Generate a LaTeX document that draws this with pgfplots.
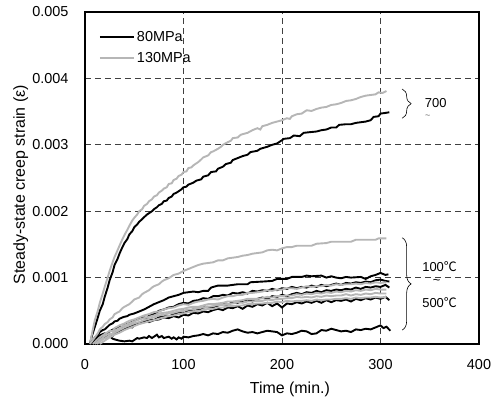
\documentclass[border=0pt]{standalone}
\usepackage{pgfplots}
\pgfplotsset{compat=1.18}
\usepackage{fontspec}
\setmainfont{Liberation Sans}
\newfontfamily\cjk{Noto Sans CJK SC}
\usetikzlibrary{decorations.pathreplacing}
\definecolor{lgray}{RGB}{182,182,182}
\begin{document}
\begin{tikzpicture}
\useasboundingbox (-85bp,-56bp) rectangle (412bp,344bp);
\begin{axis}[
    scale only axis, width=394bp, height=332bp,
    at={(0,0)}, anchor=south west,
    xmin=0, xmax=400, ymin=0, ymax=0.005,
    xtick={0,100,200,300,400}, ytick={0,0.001,0.002,0.003,0.004,0.005},
    scaled y ticks=false,
    /pgf/number format/assume math mode=true,
    tick label style={font=\fontsize{14.5}{16}\selectfont},
    xticklabel style={yshift=-12bp},
    yticklabel style={/pgf/number format/fixed, /pgf/number format/fixed zerofill,
        /pgf/number format/precision=3, xshift=-13bp},
    major tick length=0pt,
    xlabel={Time (min.)}, ylabel={Steady-state creep strain (ε)},
    label style={font=\fontsize{16}{18}\selectfont},
    xlabel style={at={(axis description cs:0.52,-0.136)}, anchor=center},
    ylabel style={at={(axis description cs:-0.163,0.48)}, anchor=center},
    grid=major,
    grid style={dash pattern=on 6bp off 4bp, line width=0.9bp, black!75},
    axis line style={line width=1.6bp},
    clip=false,
    legend style={at={(axis description cs:0.035,0.948)}, anchor=north west,
        draw=none, fill=none, font=\fontsize{14.5}{16}\selectfont, row sep=5bp,
        inner sep=0pt, cells={anchor=west}},
    legend image code/.code={\draw[#1, line width=2bp] (0bp,0bp) -- (34bp,0bp);},
    every axis plot/.append style={line width=1.9bp},
  ]
% 80 MPa, 700
\addplot[black] coordinates {
(5,0) (7,0.00012) (10,0.00026) (12,0.00035) (15,0.0005) (18,0.0006) (20,0.00071) (23,0.00085) (25,0.00096) (28,0.00108) (30,0.00119) (33,0.00128) (35,0.00136) (38,0.00146) (40,0.00152) (43,0.00158) (45,0.00165) (48,0.0017) (50,0.00176) (53,0.0018) (55,0.00184) (58,0.00188) (60,0.00191) (63,0.00195) (65,0.00197) (68,0.002) (70,0.00203) (73,0.00206) (75,0.00209) (78,0.00211) (80,0.00215) (83,0.00216) (85,0.0022) (88,0.00222) (90,0.00226) (93,0.00228) (95,0.0023) (98,0.00233) (100,0.00236) (103,0.00237) (105,0.0024) (110,0.00243) (113,0.00246) (118,0.00248) (120,0.00252) (125,0.00254) (128,0.00259) (133,0.0026) (135,0.00264) (140,0.00267) (143,0.00271) (148,0.00273) (150,0.00277) (155,0.0028) (160,0.00283) (165,0.00285) (168,0.00289) (175,0.00291) (178,0.00294) (185,0.00297) (190,0.003) (195,0.00302) (198,0.00305) (202,0.00309) (208,0.0031) (212,0.00314) (218,0.00313) (222,0.00318) (228,0.00319) (235,0.0032) (240,0.00322) (245,0.00323) (250,0.00326) (255,0.00326) (258,0.0033) (265,0.00331) (270,0.00331) (275,0.00333) (285,0.00335) (290,0.00337) (293,0.00342) (298,0.00343) (300,0.00347) (305,0.00348) (309,0.00349)};
\addlegendentry{80MPa}
% 130 MPa, 700
\addplot[lgray] coordinates {
(5,0) (8,0.00022) (10,0.00036) (13,0.0005) (15,0.00062) (18,0.00076) (20,0.00086) (23,0.001) (25,0.0011) (28,0.00123) (30,0.00131) (33,0.00141) (35,0.00148) (38,0.00158) (40,0.00164) (43,0.00172) (45,0.00178) (48,0.00186) (50,0.0019) (53,0.00195) (55,0.002) (58,0.00203) (60,0.00208) (63,0.00211) (65,0.00215) (68,0.00218) (70,0.00222) (73,0.00224) (75,0.00228) (78,0.00231) (80,0.00234) (83,0.00236) (85,0.00241) (88,0.00242) (90,0.00247) (93,0.00249) (95,0.00253) (98,0.00255) (100,0.00259) (103,0.0026) (105,0.00265) (108,0.00266) (110,0.00269) (113,0.00272) (115,0.00274) (118,0.00278) (120,0.00281) (125,0.00284) (128,0.00289) (130,0.0029) (135,0.00294) (138,0.00297) (140,0.003) (145,0.00304) (148,0.00306) (150,0.0031) (155,0.00311) (158,0.00315) (160,0.00316) (165,0.00318) (170,0.00322) (175,0.00325) (178,0.00323) (180,0.00328) (185,0.0033) (190,0.00333) (195,0.00335) (200,0.00337) (205,0.0034) (208,0.00339) (210,0.00343) (215,0.00346) (220,0.00347) (225,0.00352) (230,0.00351) (235,0.00354) (240,0.00356) (245,0.00357) (250,0.0036) (255,0.00361) (260,0.00363) (265,0.00366) (270,0.00367) (275,0.00369) (280,0.00372) (285,0.00374) (290,0.00375) (295,0.00376) (298,0.00379) (302,0.00378) (306,0.00381)};
\addlegendentry{130MPa}
% 80 MPa, 100-500
\addplot[black, forget plot] coordinates {
(5,0) (8,0.00005) (10,0.0001) (13,0.00013) (15,0.00018) (18,0.00021) (20,0.00022) (23,0.00026) (25,0.00029) (28,0.00031) (30,0.00034) (33,0.00035) (35,0.00038) (38,0.0004) (40,0.00041) (43,0.00042) (45,0.00044) (50,0.00046) (55,0.00049) (60,0.00052) (65,0.00056) (70,0.0006) (75,0.00063) (80,0.00066) (85,0.0007) (90,0.00072) (95,0.00074) (100,0.00077) (105,0.00078) (110,0.00079) (115,0.00078) (120,0.0008) (125,0.0008) (128,0.00085) (135,0.00088) (145,0.00088) (150,0.00089) (155,0.0009) (165,0.0009) (168,0.00093) (180,0.00094) (190,0.00095) (195,0.00098) (205,0.00098) (210,0.00101) (220,0.00101) (225,0.00103) (230,0.00102) (240,0.00103) (245,0.001) (250,0.00102) (255,0.001) (260,0.00099) (265,0.00101) (270,0.001) (280,0.00101) (285,0.00098) (290,0.00102) (295,0.00104) (300,0.00107) (305,0.00104) (308,0.00105)};
\addplot[black, forget plot] coordinates {
(5,0) (10,0.00006) (13,0.0001) (15,0.00013) (20,0.00016) (23,0.00015) (25,0.00019) (30,0.00023) (35,0.00026) (38,0.00025) (40,0.00029) (45,0.00031) (50,0.00035) (55,0.00038) (60,0.0004) (63,0.00039) (65,0.00043) (70,0.00045) (75,0.0005) (80,0.00052) (85,0.00055) (90,0.00056) (95,0.0006) (100,0.00062) (105,0.00061) (110,0.00065) (115,0.00066) (120,0.00069) (125,0.00068) (130,0.00072) (135,0.00072) (140,0.00074) (145,0.00073) (150,0.00077) (155,0.00076) (160,0.00078) (165,0.00076) (170,0.0008) (175,0.00079) (180,0.00081) (185,0.0008) (190,0.00083) (195,0.00081) (200,0.00084) (205,0.00083) (210,0.00086) (215,0.00084) (220,0.00086) (225,0.00085) (230,0.00088) (235,0.00086) (240,0.00089) (245,0.00087) (250,0.00089) (255,0.00091) (260,0.00089) (265,0.00092) (270,0.00091) (275,0.00093) (280,0.00092) (285,0.00094) (290,0.00093) (295,0.00096) (300,0.00097) (305,0.00095) (309,0.00094)};
\addplot[black, forget plot] coordinates {
(10,0) (15,0.00005) (20,0.0001) (25,0.00013) (30,0.00016) (35,0.0002) (40,0.00024) (45,0.00027) (50,0.0003) (55,0.00032) (60,0.00034) (65,0.00037) (70,0.00036) (75,0.0004) (80,0.00042) (85,0.00041) (90,0.00045) (95,0.00047) (100,0.00046) (105,0.0005) (110,0.00052) (115,0.00051) (120,0.00055) (125,0.00056) (130,0.00054) (135,0.00058) (140,0.0006) (145,0.00059) (150,0.00063) (155,0.00062) (160,0.00065) (165,0.00067) (170,0.00064) (175,0.00068) (180,0.0007) (185,0.00068) (190,0.00072) (195,0.00071) (200,0.00074) (205,0.00072) (210,0.00075) (215,0.00077) (220,0.00075) (225,0.00078) (230,0.00077) (235,0.0008) (240,0.00078) (245,0.00081) (250,0.0008) (255,0.00082) (260,0.00081) (265,0.00083) (270,0.00082) (275,0.00085) (280,0.00083) (285,0.00086) (290,0.00085) (295,0.00087) (300,0.00086) (305,0.00089) (309,0.00085)};
\addplot[black, forget plot] coordinates {
(8,0) (10,0.00003) (15,0.00008) (20,0.0001) (25,0.00014) (28,0.00012) (30,0.00017) (35,0.0002) (40,0.00023) (45,0.00026) (48,0.00025) (50,0.00029) (55,0.00031) (60,0.00034) (65,0.00033) (70,0.00036) (75,0.00037) (80,0.0004) (85,0.00039) (90,0.00042) (95,0.0004) (100,0.00044) (105,0.00043) (110,0.00047) (115,0.00046) (120,0.00049) (125,0.00048) (130,0.00051) (135,0.00053) (140,0.00051) (145,0.00055) (150,0.00054) (155,0.00057) (160,0.00053) (165,0.00058) (170,0.00056) (175,0.0006) (180,0.00058) (185,0.00062) (190,0.00057) (195,0.00061) (200,0.00055) (205,0.00061) (210,0.0006) (215,0.00063) (220,0.00061) (225,0.00064) (230,0.00062) (235,0.00065) (240,0.00062) (245,0.00066) (250,0.00063) (255,0.00066) (260,0.00065) (265,0.00067) (270,0.00064) (275,0.00068) (280,0.00066) (285,0.00069) (290,0.00067) (295,0.0007) (300,0.00068) (305,0.00071) (309,0.00066)};
\addplot[black, forget plot] coordinates {
(5,0) (8,0.00004) (10,0.00007) (13,0.0001) (15,0.00012) (18,0.0001) (20,0.00011) (23,0.00009) (25,0.00012) (28,0.00008) (30,0.00007) (35,0.00005) (40,0.00004) (45,0.00005) (48,0.00004) (50,0.00006) (53,0.00009) (55,0.00008) (60,0.0001) (63,0.00009) (65,0.00012) (68,0.00009) (70,0.00011) (73,0.00014) (75,0.0001) (78,0.00012) (80,0.00009) (85,0.00011) (88,0.00008) (90,0.0001) (93,0.00007) (95,0.0001) (98,0.00008) (100,0.00011) (105,0.0001) (110,0.00012) (115,0.00013) (120,0.00015) (125,0.00013) (130,0.00016) (135,0.00015) (140,0.00018) (145,0.00017) (150,0.0002) (155,0.00022) (160,0.00019) (165,0.00017) (170,0.00018) (175,0.00016) (180,0.00018) (185,0.0002) (190,0.00019) (195,0.00018) (200,0.00013) (205,0.00016) (210,0.00015) (215,0.00017) (220,0.0002) (225,0.00019) (230,0.00015) (235,0.00016) (240,0.00021) (245,0.0002) (250,0.00023) (255,0.00021) (260,0.00019) (265,0.0002) (270,0.00018) (275,0.00022) (280,0.00021) (285,0.00023) (290,0.00022) (295,0.00025) (300,0.00028) (303,0.00024) (306,0.00026) (310,0.0002)};
% 130 MPa, 100-500
\addplot[lgray, forget plot] coordinates {
(5,0) (8,0.00006) (10,0.0001) (13,0.00016) (15,0.00022) (18,0.00026) (20,0.0003) (23,0.00033) (25,0.00037) (28,0.0004) (30,0.00045) (35,0.00049) (38,0.00054) (40,0.00056) (45,0.0006) (48,0.00064) (50,0.00067) (55,0.0007) (58,0.00075) (60,0.00077) (65,0.00081) (68,0.00085) (70,0.00087) (75,0.0009) (78,0.00094) (80,0.00096) (85,0.00099) (88,0.00102) (90,0.00104) (95,0.00106) (100,0.0011) (105,0.00113) (110,0.00116) (115,0.00119) (120,0.00121) (125,0.00122) (130,0.00123) (135,0.00126) (140,0.00126) (145,0.00129) (150,0.0013) (155,0.00131) (160,0.00133) (165,0.00134) (170,0.00136) (175,0.00137) (180,0.00138) (185,0.00141) (190,0.00142) (195,0.00141) (200,0.00144) (205,0.00146) (210,0.00146) (215,0.00148) (220,0.00148) (230,0.00148) (235,0.00151) (245,0.00152) (250,0.00154) (270,0.00154) (275,0.00157) (295,0.00157) (298,0.00159) (306,0.00159)};
\addplot[lgray, forget plot] coordinates {
(8,0) (12,0.00006) (15,0.0001) (20,0.00015) (25,0.0002) (28,0.00019) (30,0.00024) (35,0.00028) (40,0.00031) (45,0.00035) (50,0.00037) (55,0.0004) (60,0.00043) (65,0.00045) (70,0.00048) (75,0.00049) (80,0.00052) (85,0.00054) (90,0.00055) (95,0.00058) (100,0.0006) (105,0.00059) (110,0.00062) (115,0.00064) (120,0.00065) (125,0.00067) (130,0.00068) (135,0.00067) (140,0.0007) (145,0.00072) (150,0.00072) (155,0.00074) (160,0.00074) (165,0.00077) (170,0.00077) (175,0.00078) (180,0.00079) (185,0.00081) (190,0.0008) (195,0.00082) (200,0.00082) (205,0.00084) (210,0.00084) (215,0.00083) (220,0.00085) (225,0.00087) (230,0.00086) (235,0.00087) (240,0.00087) (245,0.00089) (250,0.00088) (255,0.0009) (260,0.00089) (265,0.0009) (270,0.0009) (275,0.00091) (280,0.0009) (285,0.00092) (290,0.00091) (295,0.00093) (300,0.00092) (306,0.00093)};
\addplot[lgray, forget plot] coordinates {
(10,0) (15,0.00006) (20,0.00012) (25,0.00016) (28,0.00015) (30,0.0002) (35,0.00024) (40,0.00028) (45,0.00031) (50,0.00034) (55,0.00037) (60,0.00039) (65,0.00041) (70,0.00043) (75,0.00046) (80,0.00047) (85,0.00048) (90,0.0005) (95,0.00052) (100,0.00053) (105,0.00055) (110,0.00056) (115,0.00056) (120,0.00058) (125,0.0006) (130,0.0006) (135,0.00061) (140,0.00062) (145,0.00064) (150,0.00064) (155,0.00065) (160,0.00066) (165,0.00068) (170,0.00068) (175,0.00068) (180,0.00069) (185,0.00071) (190,0.0007) (195,0.00072) (200,0.00072) (205,0.00073) (210,0.00073) (215,0.00075) (220,0.00074) (225,0.00076) (230,0.00075) (235,0.00077) (240,0.00076) (245,0.00078) (250,0.00077) (255,0.00079) (260,0.00078) (265,0.0008) (270,0.00079) (275,0.00081) (280,0.0008) (285,0.00082) (290,0.00081) (295,0.00083) (300,0.00082) (306,0.00082)};
\addplot[lgray, forget plot] coordinates {
(12,0) (18,0.00007) (22,0.0001) (25,0.00013) (30,0.00017) (35,0.00021) (40,0.00025) (45,0.00028) (50,0.00031) (55,0.00033) (60,0.00036) (65,0.00038) (70,0.0004) (75,0.00043) (80,0.00044) (85,0.00046) (90,0.00047) (95,0.00049) (100,0.0005) (105,0.00052) (110,0.00052) (115,0.00054) (120,0.00055) (125,0.00056) (130,0.00057) (135,0.00059) (140,0.00059) (145,0.0006) (150,0.00061) (155,0.00063) (160,0.00062) (165,0.00064) (170,0.00064) (175,0.00065) (180,0.00065) (185,0.00067) (190,0.00066) (195,0.00068) (200,0.00068) (205,0.00069) (210,0.00069) (215,0.00071) (220,0.0007) (225,0.00071) (230,0.0007) (235,0.00072) (240,0.00071) (245,0.00073) (250,0.00072) (255,0.00073) (260,0.00073) (265,0.00075) (270,0.00073) (275,0.00075) (280,0.00074) (285,0.00076) (290,0.00075) (295,0.00077) (300,0.00076) (306,0.00076)};
\addplot[lgray, forget plot] coordinates {
(15,0) (20,0.00005) (25,0.0001) (30,0.00014) (35,0.00017) (40,0.00021) (45,0.00024) (50,0.00027) (55,0.0003) (60,0.00032) (65,0.00034) (70,0.00036) (75,0.00038) (80,0.0004) (85,0.00042) (90,0.00043) (95,0.00045) (100,0.00046) (105,0.00048) (110,0.00049) (115,0.0005) (120,0.00051) (125,0.00053) (130,0.00053) (135,0.00055) (140,0.00055) (145,0.00057) (150,0.00057) (155,0.00058) (160,0.00058) (165,0.0006) (170,0.0006) (175,0.00061) (180,0.00061) (185,0.00062) (190,0.00062) (195,0.00064) (200,0.00063) (205,0.00065) (210,0.00064) (215,0.00065) (220,0.00065) (225,0.00066) (230,0.00065) (235,0.00067) (240,0.00066) (245,0.00067) (250,0.00067) (255,0.00068) (260,0.00068) (265,0.00069) (270,0.00068) (275,0.0007) (280,0.00069) (285,0.0007) (290,0.0007) (295,0.00071) (300,0.0007) (306,0.00071)};
% annotations
\draw[line width=0.6bp, decorate, decoration={brace, amplitude=9bp}]
  (axis cs:322,0.00384) -- (axis cs:322,0.00340);
\node[font=\fontsize{13}{15}\selectfont] at (axis cs:356,0.00363) {700};
\node[font=\fontsize{9}{10}\selectfont, black!60] at (axis cs:348,0.00342) {\textasciitilde};
\draw[line width=0.6bp, decorate, decoration={brace, amplitude=9bp}]
  (axis cs:322,0.00160) -- (axis cs:322,0.00021);
\node[font=\fontsize{13}{15}\selectfont] at (axis cs:360,0.00116) {100{\cjk ℃}};
\node[font=\fontsize{13}{15}\selectfont] at (axis cs:357,0.00093) {\textasciitilde};
\node[font=\fontsize{13}{15}\selectfont] at (axis cs:360,0.00063) {500{\cjk ℃}};
\end{axis}
\end{tikzpicture}
\end{document}
